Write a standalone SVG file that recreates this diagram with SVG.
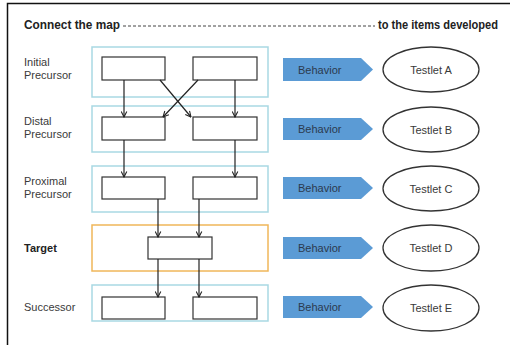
<svg xmlns="http://www.w3.org/2000/svg" width="510" height="345" viewBox="0 0 510 345">
<defs>
<style>
.lbl{font-family:"Liberation Sans",Arial,sans-serif;font-size:11px;fill:#3a3a3a}
.hdr{font-family:"Liberation Sans",Arial,sans-serif;font-size:12px;font-weight:bold;fill:#222}
.row{fill:none;stroke:#a9d9e3;stroke-width:1.5}
.tgt{fill:none;stroke:#f0b75a;stroke-width:1.5}
.box{fill:#fff;stroke:#333;stroke-width:1.2}
.beh{fill:#5b9bd5}
.btx{font-family:"Liberation Sans",Arial,sans-serif;font-size:11px;fill:#2b3a4e}
.ell{fill:#fff;stroke:#333;stroke-width:1.3}
.ttx{font-family:"Liberation Sans",Arial,sans-serif;font-size:11px;fill:#3a3a3a;text-anchor:middle}
.con{fill:none;stroke:#222;stroke-width:1.2;marker-end:url(#ah)}
</style>
<marker id="ah" viewBox="0 0 10 10" refX="9" refY="5" markerWidth="7" markerHeight="7" orient="auto" markerUnits="userSpaceOnUse">
<path d="M1,1 L9,5 L1,9" fill="none" stroke="#222" stroke-width="1.5"/>
</marker>
</defs>
<rect width="510" height="345" fill="#fff"/>
<path d="M7.5,345 V3.5 H510" fill="none" stroke="#111" stroke-width="1.5"/>
<g id="header">
<text class="hdr" x="24" y="29" textLength="96" lengthAdjust="spacingAndGlyphs">Connect the map</text>
<line x1="123" y1="26" x2="375" y2="26" stroke="#444" stroke-width="1" stroke-dasharray="3,2"/>
<text class="hdr" x="378" y="29" textLength="120" lengthAdjust="spacingAndGlyphs">to the items developed</text>
</g>
<g id="labels">
<text class="lbl" x="24" y="66">Initial</text>
<text class="lbl" x="24" y="79">Precursor</text>
<text class="lbl" x="24" y="125">Distal</text>
<text class="lbl" x="24" y="138">Precursor</text>
<text class="lbl" x="24" y="185">Proximal</text>
<text class="lbl" x="24" y="198">Precursor</text>
<text class="lbl" x="24" y="252" style="font-weight:bold;fill:#222">Target</text>
<text class="lbl" x="24" y="311">Successor</text>
</g>
<g id="row-initial">
<rect class="row" x="92" y="47" width="176" height="50"/>
<rect class="box" x="102" y="57" width="63" height="23"/>
<rect class="box" x="193" y="57" width="64" height="23"/>
</g>
<g id="row-distal">
<rect class="row" x="92" y="106" width="176" height="46"/>
<rect class="box" x="102" y="117" width="63" height="23"/>
<rect class="box" x="193" y="117" width="64" height="23"/>
</g>
<g id="row-proximal">
<rect class="row" x="92" y="166" width="176" height="46"/>
<rect class="box" x="102" y="177" width="63" height="22"/>
<rect class="box" x="193" y="177" width="64" height="22"/>
</g>
<g id="row-target">
<rect class="tgt" x="92" y="225" width="176" height="46"/>
<rect class="box" x="148" y="237" width="64" height="22"/>
</g>
<g id="row-successor">
<rect class="row" x="92" y="285" width="176" height="36"/>
<rect class="box" x="102" y="297" width="63" height="22"/>
<rect class="box" x="193" y="297" width="64" height="22"/>
</g>
<g id="connectors">
<line class="con" x1="124" y1="80" x2="124" y2="117"/>
<line class="con" x1="235" y1="80" x2="235" y2="117"/>
<line class="con" x1="160" y1="80" x2="191" y2="117"/>
<line class="con" x1="198" y1="80" x2="163" y2="117"/>
<line class="con" x1="124" y1="140" x2="124" y2="177"/>
<line class="con" x1="235" y1="140" x2="235" y2="177"/>
<line class="con" x1="158" y1="199" x2="158" y2="237"/>
<line class="con" x1="199" y1="199" x2="199" y2="237"/>
<line class="con" x1="158" y1="259" x2="158" y2="297"/>
<line class="con" x1="199" y1="259" x2="199" y2="297"/>
</g>
<g id="behavior-a"><path class="beh" d="M283,58 H361 L373,69.5 L361,81 H283 Z"/><text class="btx" x="298" y="73.5">Behavior</text></g>
<g id="behavior-b"><path class="beh" d="M283,118 H361 L373,129 L361,140 H283 Z"/><text class="btx" x="298" y="133">Behavior</text></g>
<g id="behavior-c"><path class="beh" d="M283,177 H361 L373,188 L361,199 H283 Z"/><text class="btx" x="298" y="192">Behavior</text></g>
<g id="behavior-d"><path class="beh" d="M283,237 H361 L373,248 L361,259 H283 Z"/><text class="btx" x="298" y="252">Behavior</text></g>
<g id="behavior-e"><path class="beh" d="M283,296 H361 L373,307 L361,318 H283 Z"/><text class="btx" x="298" y="311">Behavior</text></g>
<g id="testlet-a"><ellipse class="ell" cx="431" cy="69.5" rx="48" ry="22.5"/><text class="ttx" x="431" y="73.5">Testlet A</text></g>
<g id="testlet-b"><ellipse class="ell" cx="431" cy="129.5" rx="48" ry="22.5"/><text class="ttx" x="431" y="133.5">Testlet B</text></g>
<g id="testlet-c"><ellipse class="ell" cx="431" cy="188.5" rx="48" ry="22.5"/><text class="ttx" x="431" y="192.5">Testlet C</text></g>
<g id="testlet-d"><ellipse class="ell" cx="431" cy="248" rx="48" ry="23"/><text class="ttx" x="431" y="252">Testlet D</text></g>
<g id="testlet-e"><ellipse class="ell" cx="431" cy="308" rx="48" ry="23"/><text class="ttx" x="431" y="312">Testlet E</text></g>
</svg>
